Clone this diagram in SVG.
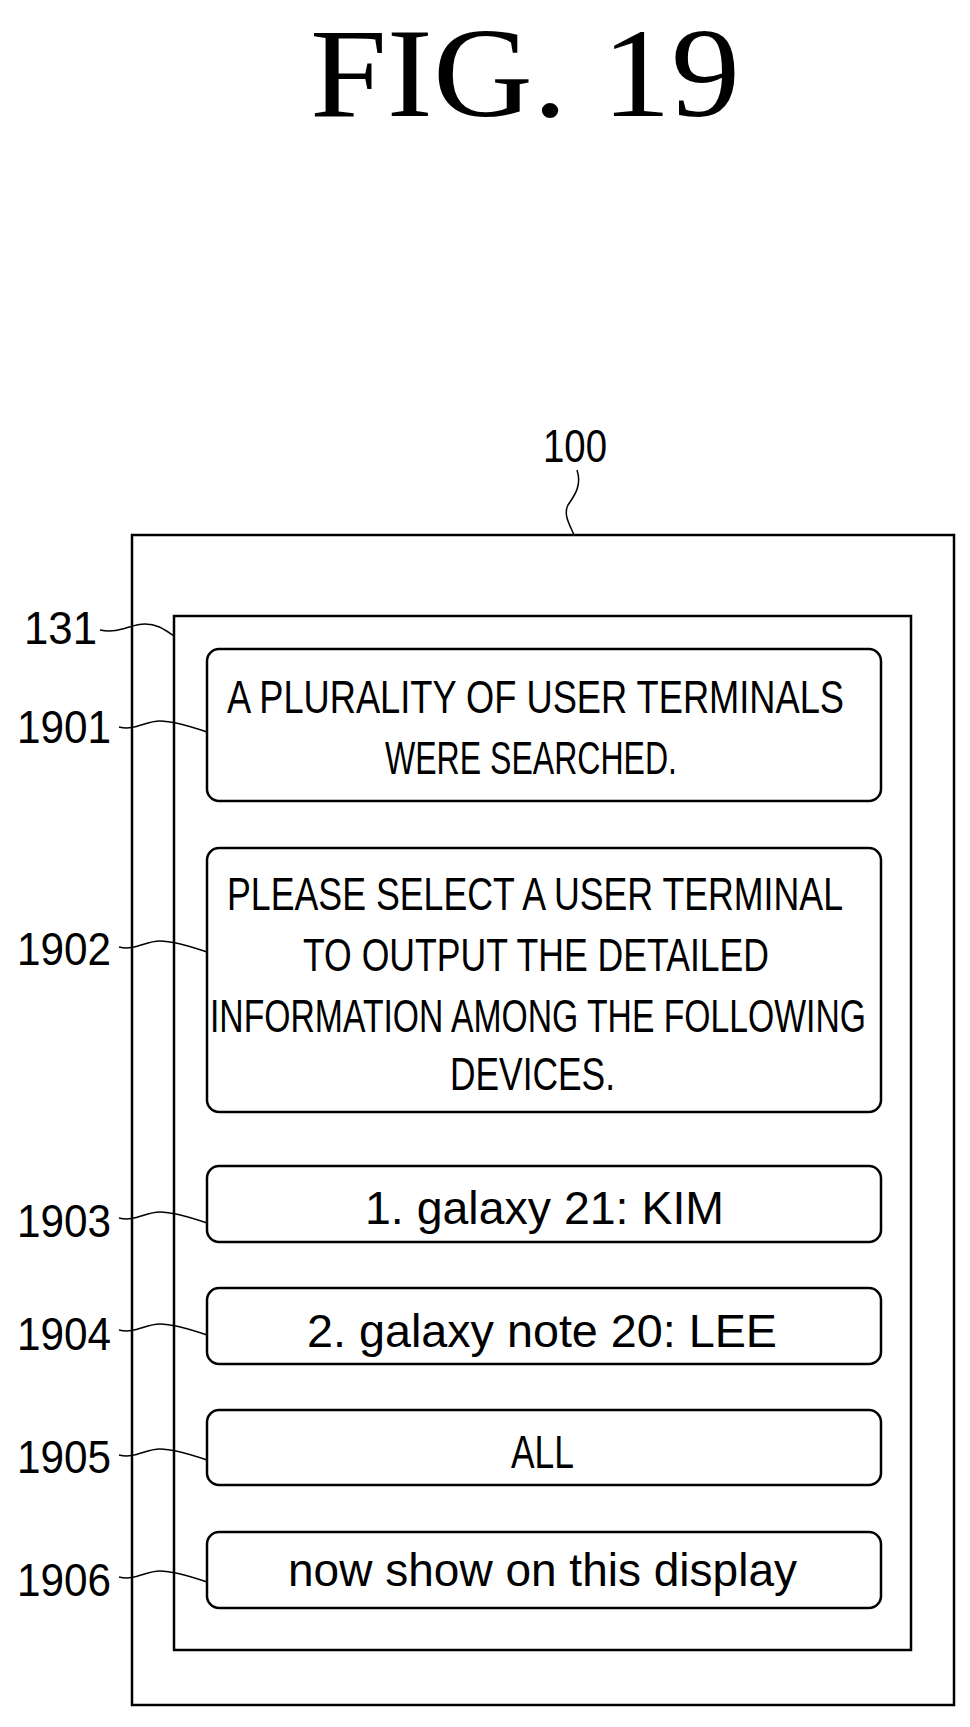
<svg xmlns="http://www.w3.org/2000/svg" width="970" height="1727" viewBox="0 0 970 1727">
<style>
.f{fill:none;stroke:#000;stroke-width:2.5}
.l{fill:none;stroke:#000;stroke-width:1.5}
.t{font-family:"Liberation Sans",Arial,sans-serif;font-size:46px;fill:#000}
.n{font-family:"Liberation Sans",Arial,sans-serif;font-size:46px;fill:#000}
</style>
<rect width="970" height="1727" fill="#fff"/>
<text x="525" y="116" text-anchor="middle" font-family="Liberation Serif,serif" font-size="128" textLength="430" lengthAdjust="spacingAndGlyphs">FIG. 19</text>
<g id="n100"><rect class="f" x="132" y="535" width="822" height="1170"/><text class="n" x="543" y="462" textLength="64" lengthAdjust="spacingAndGlyphs">100</text></g>
<g id="n131"><rect class="f" x="174" y="616" width="737" height="1034"/><text class="n" x="24" y="644" textLength="73" lengthAdjust="spacingAndGlyphs">131</text></g>
<g id="n1901"><rect class="f" x="207" y="649" width="674" height="152" rx="12"/><text class="n" x="17" y="743" textLength="94" lengthAdjust="spacingAndGlyphs">1901</text>
<text class="t" x="227" y="713" textLength="617" lengthAdjust="spacingAndGlyphs">A PLURALITY OF USER TERMINALS</text>
<text class="t" x="385" y="774" textLength="292" lengthAdjust="spacingAndGlyphs">WERE SEARCHED.</text></g>
<g id="n1902"><rect class="f" x="207" y="848" width="674" height="264" rx="12"/><text class="n" x="17" y="965" textLength="94" lengthAdjust="spacingAndGlyphs">1902</text>
<text class="t" x="227" y="910" textLength="616" lengthAdjust="spacingAndGlyphs">PLEASE SELECT A USER TERMINAL</text>
<text class="t" x="303" y="971" textLength="466" lengthAdjust="spacingAndGlyphs">TO OUTPUT THE DETAILED</text>
<text class="t" x="210" y="1032" textLength="656" lengthAdjust="spacingAndGlyphs">INFORMATION AMONG THE FOLLOWING</text>
<text class="t" x="450" y="1090" textLength="165" lengthAdjust="spacingAndGlyphs">DEVICES.</text></g>
<g id="n1903"><rect class="f" x="207" y="1166" width="674" height="76" rx="12"/><text class="n" x="17" y="1237" textLength="94" lengthAdjust="spacingAndGlyphs">1903</text>
<text class="t" x="365" y="1224" textLength="359" lengthAdjust="spacingAndGlyphs">1. galaxy 21: KIM</text></g>
<g id="n1904"><rect class="f" x="207" y="1288" width="674" height="76" rx="12"/><text class="n" x="17" y="1350" textLength="94" lengthAdjust="spacingAndGlyphs">1904</text>
<text class="t" x="307" y="1347" textLength="470" lengthAdjust="spacingAndGlyphs">2. galaxy note 20: LEE</text></g>
<g id="n1905"><rect class="f" x="207" y="1410" width="674" height="75" rx="12"/><text class="n" x="17" y="1473" textLength="94" lengthAdjust="spacingAndGlyphs">1905</text>
<text class="t" x="511" y="1468" textLength="63" lengthAdjust="spacingAndGlyphs">ALL</text></g>
<g id="n1906"><rect class="f" x="207" y="1532" width="674" height="76" rx="12"/><text class="n" x="17" y="1596" textLength="94" lengthAdjust="spacingAndGlyphs">1906</text>
<text class="t" x="288" y="1586" textLength="509" lengthAdjust="spacingAndGlyphs">now show on this display</text></g>
<g id="connectors">
<path class="l" d="M577 470 C582 485 575 495 568 505 C563 515 570 525 574 535"/>
<path class="l" d="M100 630 C120 634 130 624 145 624 C158 624 165 630 174 636"/>
<path class="l" d="M119 727 C135 731 145 721 160 721 C175 721 195 728 207 732"/>
<path class="l" d="M119 947 C135 951 145 941 160 941 C175 941 195 948 207 952"/>
<path class="l" d="M119 1218 C135 1222 145 1212 160 1212 C175 1212 195 1219 207 1223"/>
<path class="l" d="M119 1330 C135 1334 145 1324 160 1324 C175 1324 195 1331 207 1335"/>
<path class="l" d="M119 1455 C135 1459 145 1449 160 1449 C175 1449 195 1456 207 1460"/>
<path class="l" d="M119 1577 C135 1581 145 1571 160 1571 C175 1571 195 1578 207 1582"/>
</g>
</svg>
